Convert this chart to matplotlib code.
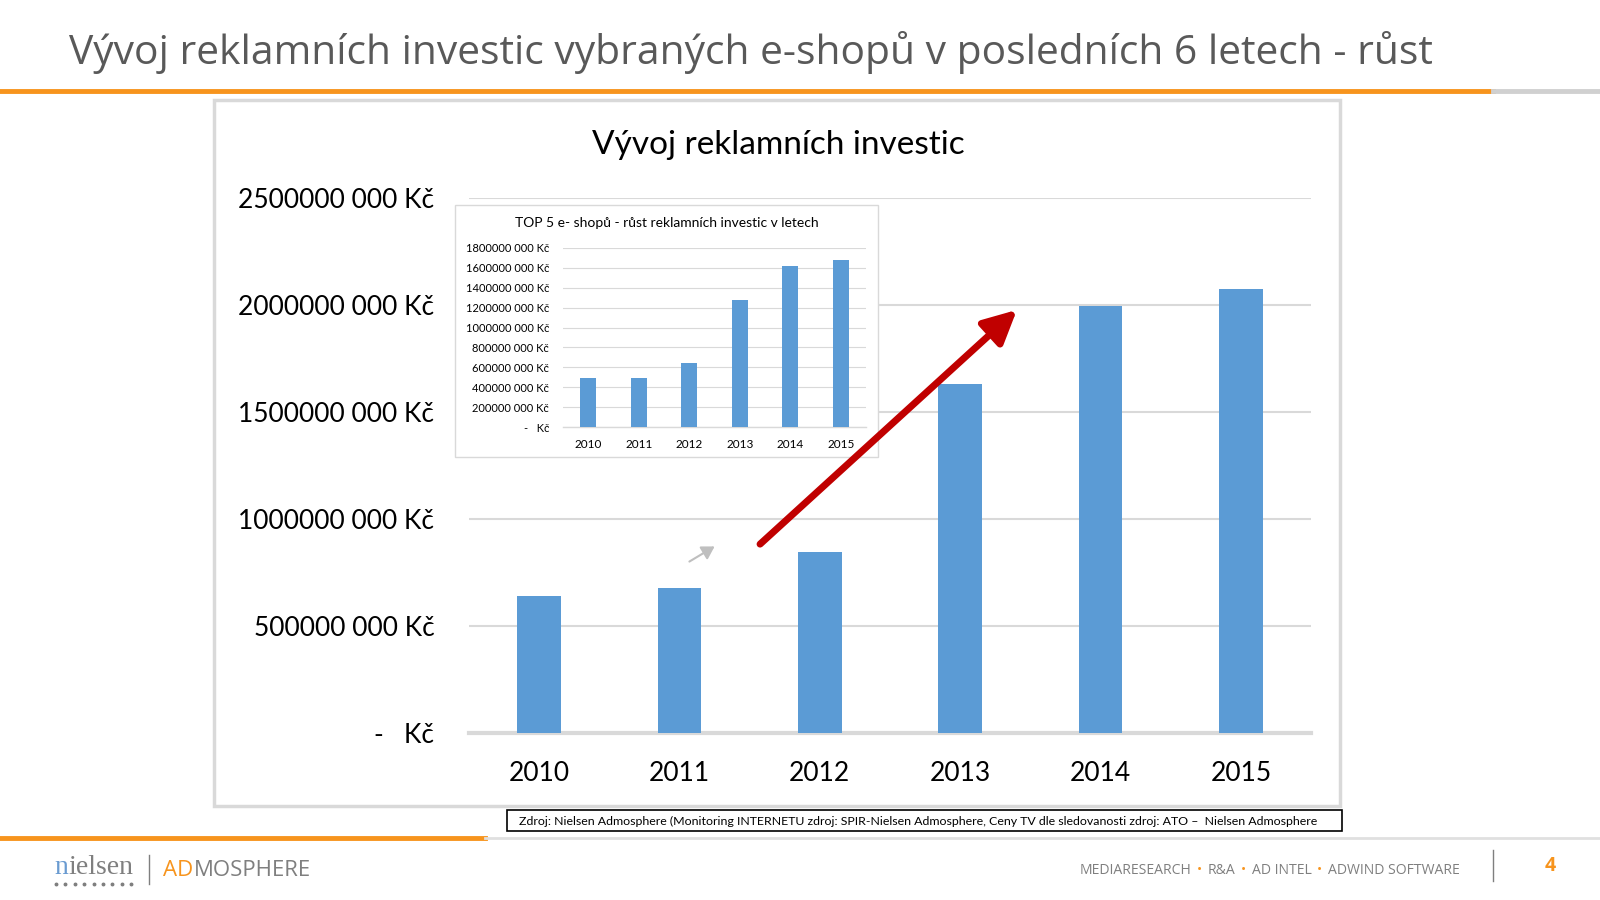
import matplotlib.pyplot as plt
from matplotlib.patches import Rectangle, FancyArrowPatch
from matplotlib.lines import Line2D

roky = ["2010", "2011", "2012", "2013", "2014", "2015"]
investice_celkem = [640e6, 677e6, 844e6, 1632e6, 1994e6, 2075e6]
investice_top5 = [489e6, 489e6, 640e6, 1280e6, 1622e6, 1679e6]

ticky_hlavni = [0, 500e6, 1000e6, 1500e6, 2000e6, 2500e6]
ticky_vlozeny = [0, 200e6, 400e6, 600e6, 800e6, 1000e6, 1200e6, 1400e6, 1600e6, 1800e6]

MODRA = "#5B9BD5"
ORANZOVA = "#F7941D"
SEDA = "#7F7F7F"
SEDA_MRIZKA = "#D9D9D9"
FONT = ["Open Sans", "DejaVu Sans"]
FONT_GRAF = ["Lato", "DejaVu Sans"]


def popisek_kc(v):
    if v == 0:
        return "-   Kč"
    return f"{int(v // 1000)} 000 Kč"


W, H = 1600, 900
fig = plt.figure(figsize=(16, 9), dpi=100)
fig.patch.set_facecolor("white")
renderer = fig.canvas.get_renderer()


def rect(x0, y0, x1, y1):
    return [x0 / W, 1 - y1 / H, (x1 - x0) / W, (y1 - y0) / H]


def sirka(t):
    return t.get_window_extent(renderer).width


# titulek stranky
fig.text(69 / W, 1 - 53 / H, "Vývoj reklamních investic vybraných e-shopů v posledních 6 letech - růst",
         fontsize=29.3, color="#595959", family=FONT, va="center", ha="left")
fig.add_artist(Line2D([0, 1493 / W], [1 - 91 / H] * 2, color=ORANZOVA, lw=3.5))
fig.add_artist(Line2D([1493 / W, 1], [1 - 91 / H] * 2, color="#D0D0D0", lw=3.5))

# ramecek grafu
fig.add_artist(Rectangle((214 / W, 1 - 806 / H), (1340 - 214) / W, (806 - 100) / H,
                         transform=fig.transFigure, fill=False, ec="#D9D9D9", lw=2.5))

# hlavni graf
ax = fig.add_axes(rect(469, 198, 1311, 733))
x = range(len(roky))
ax.bar(x, investice_celkem, width=0.31, color=MODRA, zorder=3)
ax.set_xlim(-0.5, 5.5)
ax.set_ylim(0, 2.5e9)
ax.set_yticks(ticky_hlavni)
ax.set_yticklabels([popisek_kc(v) for v in ticky_hlavni], fontsize=19, family=FONT_GRAF)
ax.set_xticks(list(x))
ax.set_xticklabels(roky, fontsize=19, family=FONT_GRAF)
ax.tick_params(length=0, pad=25, axis="y")
ax.tick_params(length=0, pad=20, axis="x")
ax.grid(axis="y", color=SEDA_MRIZKA, lw=1.5, zorder=0)
for s in ["top", "right", "left"]:
    ax.spines[s].set_visible(False)
ax.spines["bottom"].set_color(SEDA_MRIZKA)
ax.spines["bottom"].set_linewidth(3)
fig.text(778 / W, 1 - 145 / H, "Vývoj reklamních investic", fontsize=24, family=FONT_GRAF,
         ha="center", va="center", color="black")

# vlozeny graf
fig.add_artist(Rectangle((455 / W, 1 - 457 / H), (878 - 455) / W, (457 - 205) / H,
                         transform=fig.transFigure, fc="white", ec="#D9D9D9", lw=1, zorder=5))
ax2 = fig.add_axes(rect(563, 248, 866, 427), zorder=6)
ax2.patch.set_alpha(0)
ax2.bar(x, investice_top5, width=0.32, color=MODRA, zorder=3)
ax2.set_xlim(-0.5, 5.5)
ax2.set_ylim(0, 1.8e9)
ax2.set_yticks(ticky_vlozeny)
ax2.set_yticklabels([popisek_kc(v) for v in ticky_vlozeny], fontsize=8, family=FONT_GRAF)
ax2.set_xticks(list(x))
ax2.set_xticklabels(roky, fontsize=8.5, family=FONT_GRAF)
ax2.tick_params(length=0, pad=10, axis="y")
ax2.tick_params(length=0, pad=9, axis="x")
ax2.grid(axis="y", color=SEDA_MRIZKA, lw=0.8, zorder=0)
for s in ["top", "right", "left"]:
    ax2.spines[s].set_visible(False)
ax2.spines["bottom"].set_color(SEDA_MRIZKA)
ax2.spines["bottom"].set_linewidth(1)
fig.text(667 / W, 1 - 223 / H, "TOP 5 e- shopů - růst reklamních investic v letech", fontsize=10,
         family=FONT_GRAF, ha="center", va="center", zorder=7)

# sipky
fig.add_artist(FancyArrowPatch((758 / W, 1 - 546 / H), (1019 / W, 1 - 308 / H),
                               transform=fig.transFigure, arrowstyle="-|>,head_length=10,head_width=5",
                               color="#C00000", lw=5, mutation_scale=2, zorder=10))
fig.add_artist(FancyArrowPatch((687 / W, 1 - 563 / H), (717 / W, 1 - 545 / H),
                               transform=fig.transFigure, arrowstyle="-|>,head_length=5,head_width=3",
                               color="#BFBFBF", lw=1.5, mutation_scale=1.5))

# zdroj
fig.add_artist(Rectangle((507 / W, 1 - 831 / H), (1342 - 507) / W, (831 - 810) / H,
                         transform=fig.transFigure, fc="white", ec="black", lw=1.2))
fig.text(519 / W, 1 - 821 / H,
         "Zdroj: Nielsen Admosphere (Monitoring INTERNETU zdroj: SPIR-Nielsen Admosphere, Ceny TV dle sledovanosti zdroj: ATO –  Nielsen Admosphere",
         fontsize=8.9, family=FONT_GRAF, ha="left", va="center")

# paticka
fig.add_artist(Line2D([0, 485 / W], [1 - 838 / H] * 2, color=ORANZOVA, lw=3.5))
fig.add_artist(Line2D([485 / W, 1], [1 - 838 / H] * 2, color="#E0E0E0", lw=2))
t_n = fig.text(54 / W, 1 - 867 / H, "n", fontsize=20, family="Liberation Serif", color="#6A9BD1", va="center")
fig.text((54 + sirka(t_n)) / W, 1 - 867 / H, "ielsen", fontsize=20, family="Liberation Serif",
         color=SEDA, va="center")
tecky_x = [56 + 9.4 * i for i in range(9)]
fig.add_artist(Line2D([v / W for v in tecky_x], [1 - 884 / H] * 9, ls="none", marker="o",
                      ms=1.8, color=SEDA))
fig.add_artist(Line2D([149 / W] * 2, [1 - 855 / H, 1 - 884 / H], color=SEDA, lw=1))
t_ad = fig.text(163 / W, 1 - 870 / H, "AD", fontsize=16, family=FONT, color=ORANZOVA, va="center")
fig.text((163 + sirka(t_ad) + 1) / W, 1 - 870 / H, "MOSPHERE", fontsize=16, family=FONT, color=SEDA,
         va="center")

pat = [("MEDIARESEARCH", SEDA), ("•", ORANZOVA), ("R&A", SEDA), ("•", ORANZOVA), ("AD INTEL", SEDA),
       ("•", ORANZOVA), ("ADWIND SOFTWARE", SEDA)]
px = 1080
for t, c in pat:
    tt = fig.text(px / W, 1 - 870 / H, t, fontsize=10.1, family=FONT, color=c, va="center")
    px += sirka(tt) + 5.5
fig.add_artist(Line2D([1493 / W] * 2, [1 - 850 / H, 1 - 881 / H], color=SEDA, lw=1))
fig.text(1550 / W, 1 - 866 / H, "4", fontsize=14, family=FONT, color=ORANZOVA, va="center",
         ha="center", weight="bold")

fig.savefig("out.png", dpi=100)
